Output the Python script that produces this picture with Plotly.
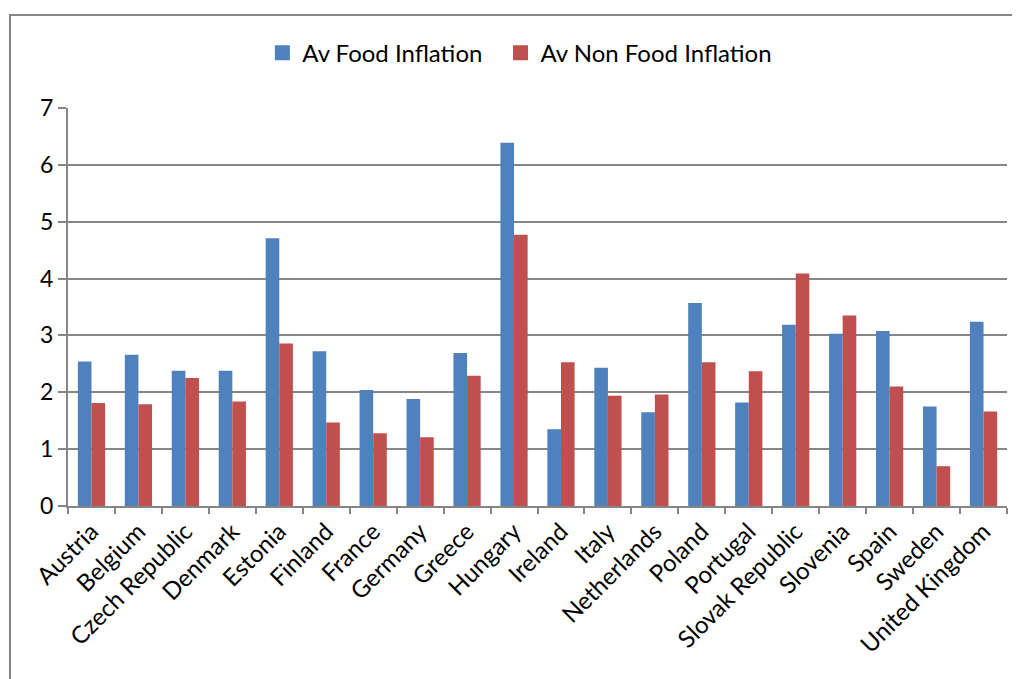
import plotly.graph_objects as go

countries = ["Austria", "Belgium", "Czech Republic", "Denmark", "Estonia", "Finland",
             "France", "Germany", "Greece", "Hungary", "Ireland", "Italy", "Netherlands",
             "Poland", "Portugal", "Slovak Republic", "Slovenia", "Spain", "Sweden",
             "United Kingdom"]
food = [2.54, 2.66, 2.38, 2.38, 4.71, 2.72, 2.04, 1.88, 2.69, 6.39, 1.35, 2.43, 1.65,
        3.57, 1.82, 3.19, 3.03, 3.08, 1.75, 3.24]
non_food = [1.81, 1.79, 2.25, 1.84, 2.86, 1.47, 1.28, 1.21, 2.29, 4.77, 2.53, 1.94, 1.96,
            2.53, 2.37, 4.09, 3.35, 2.10, 0.70, 1.66]
series_names = ["Av Food Inflation", "Av Non Food Inflation"]
colors = ["#4F81BD", "#C0504D"]
legend_ids = ["legend", "legend2"]

FONT = "Lato"
fig = go.Figure()
for name, vals, col in zip(series_names, [food, non_food], colors):
    fig.add_trace(go.Bar(x=countries, y=vals, name=name, marker_color=col,
                         marker_line_width=0, showlegend=False))
# legend entries with larger square swatches, one legend box per entry
for name, col, lg in zip(series_names, colors, legend_ids):
    fig.add_trace(go.Scatter(x=[None], y=[None], mode="markers", name=name, legend=lg,
                             marker=dict(symbol="square", size=15, color=col)))

leg_common = dict(orientation="h", xanchor="left", y=1.138, yanchor="middle",
                  font=dict(size=24), itemwidth=30, bgcolor="rgba(0,0,0,0)")
fig.update_layout(
    width=1012, height=671,
    margin=dict(l=60, r=13, t=100, b=173, autoexpand=False),
    paper_bgcolor="white", plot_bgcolor="white",
    font=dict(family=FONT, size=22, color="black"),
    barmode="group", bargap=0.42, bargroupgap=0,
    showlegend=True,
    legend=dict(x=0.207, **leg_common),
    legend2=dict(x=0.4606, **leg_common),
    xaxis=dict(showline=True, linecolor="#868686", linewidth=2, ticks="outside",
               tickson="boundaries", ticklen=6, tickcolor="#868686", tickwidth=2,
               tickangle=-45, tickfont=dict(size=24), showgrid=False),
    yaxis=dict(range=[0, 7], dtick=1, showgrid=True, gridcolor="#868686", gridwidth=2,
               showline=True, linecolor="#868686", linewidth=2, ticks="outside",
               ticklen=8, tickcolor="#868686", tickwidth=2, tickfont=dict(size=23),
               zeroline=False),
    shapes=[dict(type="rect", xref="paper", yref="paper", x0=-0.0618, x1=1.05,
                 y0=-0.5, y1=1.2337, line=dict(color="#868686", width=2),
                 fillcolor="rgba(0,0,0,0)", layer="below")],
)
fig.write_html("out.html")
